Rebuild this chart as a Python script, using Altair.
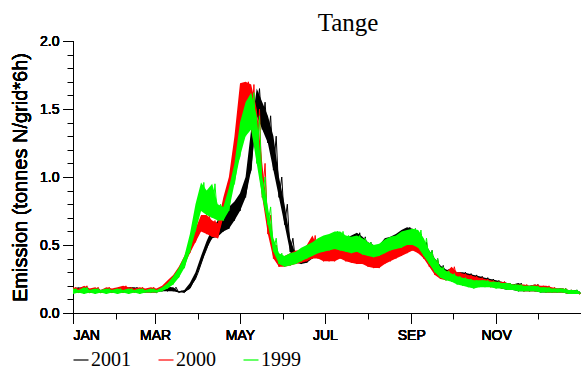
import altair as alt
import pandas as pd

# sample days (low value read at day d, high value read at day d+2)
DAYS = list(range(0, 365, 4))

MONTH_START = [0, 31, 59, 90, 120, 151, 181, 212, 243, 273, 304, 334]
MONTH_LABELS = ["JAN", "FEB", "MAR", "APR", "MAY", "JUN",
                "JUL", "AUG", "SEP", "OCT", "NOV", "DEC"]

SERIES = ["2001", "2000", "1999"]
COLORS = ["#000000", "#ff0000", "#00ff00"]

Y2001_LO = [0.15, 0.15, 0.15, 0.15, 0.15, 0.15, 0.15, 0.15, 0.15, 0.15, 0.16, 0.16, 0.15, 0.15, 0.15, 0.15, 0.16, 0.16, 0.16,
            0.15, 0.15, 0.18, 0.25, 0.36, 0.47, 0.55, 0.56, 0.60, 0.62, 0.68, 0.75, 0.85, 1.05, 1.45, 1.35, 1.25, 1.05, 0.85,
            0.65, 0.45, 0.37, 0.36, 0.37, 0.40, 0.42, 0.42, 0.43, 0.45, 0.44, 0.44, 0.45, 0.46, 0.44, 0.42, 0.40, 0.40, 0.44,
            0.46, 0.48, 0.50, 0.52, 0.50, 0.48, 0.42, 0.36, 0.32, 0.27, 0.25, 0.24, 0.24, 0.23, 0.22, 0.22, 0.21, 0.20, 0.20,
            0.19, 0.18, 0.17, 0.17, 0.16, 0.16, 0.16, 0.16, 0.15, 0.15, 0.15, 0.15, 0.15, 0.14, 0.14, 0.14]
Y2001_HI = [0.18, 0.19, 0.18, 0.17, 0.18, 0.17, 0.18, 0.17, 0.18, 0.17, 0.19, 0.19, 0.18, 0.17, 0.17, 0.17, 0.18, 0.19, 0.19,
            0.16, 0.17, 0.22, 0.30, 0.42, 0.53, 0.62, 0.68, 0.72, 0.78, 0.82, 0.88, 1.00, 1.35, 1.65, 1.55, 1.45, 1.30, 1.00,
            0.80, 0.55, 0.43, 0.44, 0.45, 0.48, 0.52, 0.55, 0.56, 0.58, 0.54, 0.55, 0.57, 0.59, 0.56, 0.52, 0.50, 0.50, 0.55,
            0.56, 0.58, 0.61, 0.63, 0.62, 0.58, 0.52, 0.46, 0.40, 0.35, 0.32, 0.31, 0.30, 0.30, 0.29, 0.28, 0.27, 0.26, 0.25,
            0.24, 0.23, 0.22, 0.21, 0.22, 0.20, 0.20, 0.21, 0.19, 0.19, 0.18, 0.18, 0.18, 0.17, 0.17, 0.16]

Y2000_LO = [0.15, 0.15, 0.16, 0.15, 0.15, 0.15, 0.15, 0.15, 0.16, 0.15, 0.15, 0.15, 0.15, 0.15, 0.15, 0.15,
            0.17, 0.19, 0.22, 0.28, 0.35, 0.44, 0.52, 0.60, 0.58, 0.56, 0.55, 0.70, 0.85, 1.05, 1.30, 1.40, 1.35, 1.15,
            0.85, 0.58, 0.40, 0.34, 0.34, 0.35, 0.36, 0.37, 0.38, 0.40, 0.40, 0.38, 0.38, 0.38, 0.40, 0.38, 0.37, 0.36,
            0.36, 0.34, 0.33, 0.33, 0.36, 0.38, 0.40, 0.42, 0.44, 0.46, 0.44, 0.40, 0.34, 0.28, 0.25, 0.24, 0.25, 0.24,
            0.23, 0.22, 0.21, 0.20, 0.20, 0.19, 0.19, 0.18, 0.18, 0.17, 0.17, 0.16, 0.16, 0.16, 0.16, 0.15, 0.15, 0.15,
            0.15, 0.14, 0.14, 0.14]
Y2000_HI = [0.19, 0.18, 0.20, 0.18, 0.19, 0.17, 0.19, 0.18, 0.19, 0.20, 0.19, 0.18, 0.19, 0.18, 0.19, 0.18,
            0.20, 0.24, 0.28, 0.34, 0.42, 0.52, 0.62, 0.72, 0.72, 0.68, 0.66, 0.85, 1.00, 1.30, 1.69, 1.70, 1.68, 1.50,
            1.10, 0.72, 0.50, 0.42, 0.42, 0.44, 0.46, 0.46, 0.50, 0.57, 0.48, 0.47, 0.48, 0.48, 0.50, 0.48, 0.47, 0.46,
            0.47, 0.44, 0.43, 0.42, 0.45, 0.48, 0.50, 0.53, 0.55, 0.55, 0.54, 0.50, 0.44, 0.38, 0.32, 0.30, 0.34, 0.30,
            0.29, 0.28, 0.27, 0.26, 0.25, 0.24, 0.23, 0.23, 0.22, 0.21, 0.21, 0.21, 0.20, 0.21, 0.20, 0.20, 0.19, 0.18,
            0.18, 0.17, 0.16, 0.15]

Y1999_LO = [0.14, 0.15, 0.14, 0.15, 0.14, 0.15, 0.14, 0.15, 0.14, 0.15, 0.14, 0.15, 0.14, 0.15, 0.15, 0.15,
            0.16, 0.18, 0.21, 0.26, 0.33, 0.45, 0.60, 0.75, 0.72, 0.70, 0.68, 0.68, 0.75, 0.95, 1.15, 1.30, 1.35, 1.10,
            0.85, 0.65, 0.45, 0.36, 0.34, 0.35, 0.36, 0.38, 0.40, 0.42, 0.44, 0.45, 0.46, 0.47, 0.46, 0.45, 0.44, 0.45,
            0.43, 0.42, 0.41, 0.42, 0.44, 0.46, 0.47, 0.48, 0.50, 0.50, 0.48, 0.42, 0.36, 0.30, 0.26, 0.24, 0.23, 0.21,
            0.20, 0.19, 0.18, 0.19, 0.19, 0.19, 0.18, 0.18, 0.17, 0.17, 0.16, 0.16, 0.16, 0.16, 0.15, 0.15, 0.15, 0.15,
            0.15, 0.14, 0.14, 0.14]
Y1999_HI = [0.18, 0.17, 0.19, 0.17, 0.18, 0.17, 0.18, 0.17, 0.18, 0.17, 0.18, 0.17, 0.18, 0.17, 0.18, 0.17,
            0.19, 0.22, 0.27, 0.33, 0.42, 0.58, 0.80, 0.96, 0.90, 0.95, 0.80, 0.78, 0.92, 1.10, 1.40, 1.55, 1.62, 1.45,
            1.00, 0.78, 0.55, 0.44, 0.42, 0.44, 0.45, 0.48, 0.50, 0.52, 0.55, 0.57, 0.58, 0.60, 0.60, 0.57, 0.56, 0.57,
            0.55, 0.52, 0.50, 0.51, 0.54, 0.56, 0.57, 0.60, 0.61, 0.62, 0.61, 0.55, 0.46, 0.40, 0.34, 0.31, 0.29, 0.27,
            0.26, 0.25, 0.24, 0.24, 0.24, 0.23, 0.23, 0.22, 0.22, 0.21, 0.21, 0.20, 0.20, 0.20, 0.19, 0.19, 0.18, 0.18,
            0.18, 0.17, 0.17, 0.16]

LOWS = {"2001": Y2001_LO, "2000": Y2000_LO, "1999": Y1999_LO}
HIGHS = {"2001": Y2001_HI, "2000": Y2000_HI, "1999": Y1999_HI}

for arr in list(LOWS.values()) + list(HIGHS.values()):
    assert len(arr) == len(DAYS), len(arr)


def line_frame(name):
    rows = []
    for d, a, b in zip(DAYS, LOWS[name], HIGHS[name]):
        rows.append({"day": d, "value": a, "series": name})
        rows.append({"day": d + 2, "value": b, "series": name})
    return pd.DataFrame(rows)


def band_frame(name):
    return pd.DataFrame({"day": DAYS, "lo": LOWS[name], "hi": HIGHS[name]})


major_x = MONTH_START[0::2]
minor_x = MONTH_START[1::2]
label_expr = " : ".join(
    [f"datum.value == {v} ? '{MONTH_LABELS[i]}'" for i, v in enumerate(MONTH_START)]
) + " : ''"

major_y = [0.0, 0.5, 1.0, 1.5, 2.0]
minor_y = [round(i * 0.1, 1) for i in range(21) if i % 5 != 0]

SANS = "Liberation Sans"
SERIF = "Liberation Serif"

x_scale = alt.Scale(domain=[0, 365], nice=False, zero=False)
y_scale = alt.Scale(domain=[0, 2], nice=False)
color_scale = alt.Scale(domain=SERIES, range=COLORS)

x_major_axis = alt.Axis(values=major_x, labelExpr=label_expr, tickSize=10, labelPadding=5,
                        grid=False, title=None, orient="bottom", domainColor="black",
                        tickColor="black", labelColor="black", labelFont=SANS, labelFontSize=14)
y_major_axis = alt.Axis(values=major_y, format=".1f", tickSize=10, labelPadding=4, grid=False,
                        title="Emission (tonnes N/grid*6h)", titleFont=SANS, titleFontSize=20,
                        titleFontWeight="normal", titleColor="black", titlePadding=9,
                        orient="left", domainColor="black", tickColor="black",
                        labelColor="black", labelFont=SANS, labelFontSize=14)
x_minor_axis = alt.Axis(values=minor_x, tickSize=6, labels=False, domain=False, grid=False,
                        title=None, orient="bottom", tickColor="black")
y_minor_axis = alt.Axis(values=minor_y, tickSize=6, labels=False, domain=False, grid=False,
                        title=None, orient="left", tickColor="black")

legend = alt.Legend(orient="none", legendX=-2, legendY=309, direction="horizontal",
                    symbolType="stroke", symbolSize=225, symbolStrokeWidth=1.2,
                    labelFont=SERIF, labelFontSize=20, labelColor="black", labelOffset=0,
                    columnPadding=25, title=None, padding=0)

layers = []
for name, col in zip(SERIES, COLORS):
    layers.append(
        alt.Chart(band_frame(name)).mark_area(color=col, opacity=1, clip=True).encode(
            x=alt.X("day:Q", scale=x_scale, axis=x_major_axis),
            y=alt.Y("lo:Q", scale=y_scale, axis=y_major_axis),
            y2="hi:Q",
        )
    )
    layers.append(
        alt.Chart(line_frame(name)).mark_line(strokeWidth=1, clip=True).encode(
            x=alt.X("day:Q", scale=x_scale, axis=x_major_axis),
            y=alt.Y("value:Q", scale=y_scale, axis=y_major_axis),
            color=alt.Color("series:N", scale=color_scale, legend=legend),
        )
    )

minor_layer = alt.Chart(line_frame("1999")).mark_line(opacity=0, clip=True).encode(
    x=alt.X("day:Q", scale=x_scale, axis=x_minor_axis),
    y=alt.Y("value:Q", scale=y_scale, axis=y_minor_axis),
)

chart = alt.layer(*layers, minor_layer).resolve_axis(
    x="independent", y="independent"
).properties(
    width=508,
    height=272,
    padding={"left": 73, "top": 41, "right": 0, "bottom": 60},
    autosize=alt.AutoSizeParams(type="none"),
    title=alt.Title("Tange", font=SERIF, fontSize=25, fontWeight="normal", color="black",
                    anchor="middle", frame="group", dx=21, dy=32, offset=10,
                    baseline="alphabetic"),
    background="white",
).configure_view(stroke=None)

chart.save("out.html", embed_options={"renderer": "svg", "actions": False})
